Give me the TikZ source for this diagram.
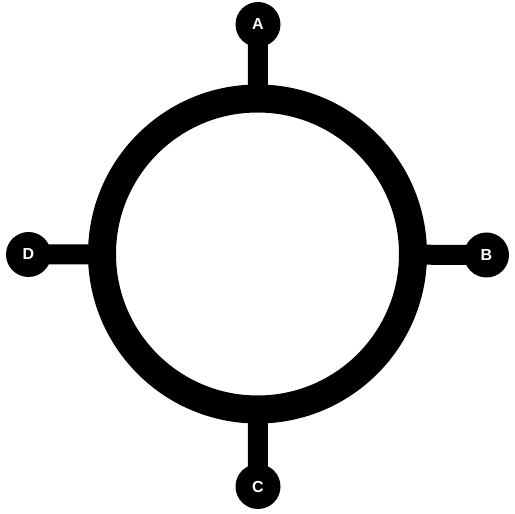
\documentclass[tikz,border=0pt]{standalone}
\usepackage{fontspec}
\setmainfont{Liberation Sans}
\usetikzlibrary{positioning,backgrounds}

\begin{document}
\begin{tikzpicture}[
            x=1pt, y=1pt,
            every node/.style={font=\bfseries\fontsize{16}{18}\selectfont},
            port/.style={circle, fill=black, text=white, minimum size=45pt, inner sep=0pt},
            stem/.style={line width=20pt, shorten <=-2pt},
        ]
            \useasboundingbox (0,0) rectangle (515,514);
            \node[circle, draw, line width=28pt, minimum size=311pt, inner sep=0pt] (ring) at (257.5,260) {};
            \node[port] (A) at (258,489.5) {A};
            \node[port] (B) at (486.5,259) {B};
            \node[port] (C) at (258,27.5) {C};
            \node[port] (D) at (28.5,259.5) {D};
            \begin{scope}[on background layer]
                \draw[stem] (ring) -- (A.center);
                \draw[stem] (ring) -- (B.center);
                \draw[stem] (ring) -- (C.center);
                \draw[stem] (ring) -- (D.center);
            \end{scope}
        \end{tikzpicture}
\end{document}
